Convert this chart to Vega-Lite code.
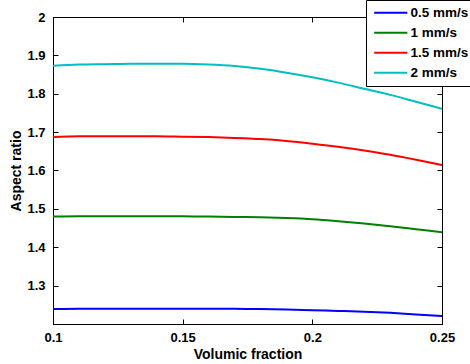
{
  "$schema": "https://vega.github.io/schema/vega-lite/v6.json",
  "width": 389,
  "height": 307,
  "autosize": "none",
  "padding": {"left": 53, "top": 17, "right": 28, "bottom": 40},
  "background": "white",
  "config": {
    "view": {"stroke": "black", "strokeWidth": 1},
    "font": "Liberation Sans",
    "axis": {"grid": false, "domainColor": "black", "tickColor": "black", "labelColor": "black", "titleColor": "black", "labelFont": "Liberation Sans", "labelFontWeight": "bold", "labelFontSize": 13, "titleFont": "Liberation Sans", "titleFontWeight": "bold", "titleFontSize": 14, "tickSize": -5, "labelFlush": false}
  },
  "data": {"values": [
    {"x": 0.10, "s": "0.5 mm/s", "y": 1.239}, {"x": 0.11, "s": "0.5 mm/s", "y": 1.240}, {"x": 0.12, "s": "0.5 mm/s", "y": 1.240}, {"x": 0.13, "s": "0.5 mm/s", "y": 1.240}, {"x": 0.14, "s": "0.5 mm/s", "y": 1.240}, {"x": 0.15, "s": "0.5 mm/s", "y": 1.240}, {"x": 0.16, "s": "0.5 mm/s", "y": 1.240}, {"x": 0.17, "s": "0.5 mm/s", "y": 1.240}, {"x": 0.18, "s": "0.5 mm/s", "y": 1.239}, {"x": 0.19, "s": "0.5 mm/s", "y": 1.238}, {"x": 0.20, "s": "0.5 mm/s", "y": 1.236}, {"x": 0.21, "s": "0.5 mm/s", "y": 1.234}, {"x": 0.22, "s": "0.5 mm/s", "y": 1.232}, {"x": 0.23, "s": "0.5 mm/s", "y": 1.229}, {"x": 0.24, "s": "0.5 mm/s", "y": 1.225}, {"x": 0.25, "s": "0.5 mm/s", "y": 1.221},
    {"x": 0.10, "s": "1 mm/s", "y": 1.480}, {"x": 0.11, "s": "1 mm/s", "y": 1.481}, {"x": 0.12, "s": "1 mm/s", "y": 1.481}, {"x": 0.13, "s": "1 mm/s", "y": 1.481}, {"x": 0.14, "s": "1 mm/s", "y": 1.481}, {"x": 0.15, "s": "1 mm/s", "y": 1.481}, {"x": 0.16, "s": "1 mm/s", "y": 1.480}, {"x": 0.17, "s": "1 mm/s", "y": 1.479}, {"x": 0.18, "s": "1 mm/s", "y": 1.478}, {"x": 0.19, "s": "1 mm/s", "y": 1.476}, {"x": 0.20, "s": "1 mm/s", "y": 1.473}, {"x": 0.21, "s": "1 mm/s", "y": 1.468}, {"x": 0.22, "s": "1 mm/s", "y": 1.462}, {"x": 0.23, "s": "1 mm/s", "y": 1.455}, {"x": 0.24, "s": "1 mm/s", "y": 1.447}, {"x": 0.25, "s": "1 mm/s", "y": 1.439},
    {"x": 0.10, "s": "1.5 mm/s", "y": 1.687}, {"x": 0.11, "s": "1.5 mm/s", "y": 1.689}, {"x": 0.12, "s": "1.5 mm/s", "y": 1.689}, {"x": 0.13, "s": "1.5 mm/s", "y": 1.689}, {"x": 0.14, "s": "1.5 mm/s", "y": 1.689}, {"x": 0.15, "s": "1.5 mm/s", "y": 1.688}, {"x": 0.16, "s": "1.5 mm/s", "y": 1.687}, {"x": 0.17, "s": "1.5 mm/s", "y": 1.685}, {"x": 0.18, "s": "1.5 mm/s", "y": 1.682}, {"x": 0.19, "s": "1.5 mm/s", "y": 1.677}, {"x": 0.20, "s": "1.5 mm/s", "y": 1.670}, {"x": 0.21, "s": "1.5 mm/s", "y": 1.662}, {"x": 0.22, "s": "1.5 mm/s", "y": 1.652}, {"x": 0.23, "s": "1.5 mm/s", "y": 1.641}, {"x": 0.24, "s": "1.5 mm/s", "y": 1.628}, {"x": 0.25, "s": "1.5 mm/s", "y": 1.614},
    {"x": 0.10, "s": "2 mm/s", "y": 1.873}, {"x": 0.11, "s": "2 mm/s", "y": 1.876}, {"x": 0.12, "s": "2 mm/s", "y": 1.877}, {"x": 0.13, "s": "2 mm/s", "y": 1.878}, {"x": 0.14, "s": "2 mm/s", "y": 1.878}, {"x": 0.15, "s": "2 mm/s", "y": 1.878}, {"x": 0.16, "s": "2 mm/s", "y": 1.876}, {"x": 0.17, "s": "2 mm/s", "y": 1.872}, {"x": 0.18, "s": "2 mm/s", "y": 1.865}, {"x": 0.19, "s": "2 mm/s", "y": 1.855}, {"x": 0.20, "s": "2 mm/s", "y": 1.843}, {"x": 0.21, "s": "2 mm/s", "y": 1.829}, {"x": 0.22, "s": "2 mm/s", "y": 1.813}, {"x": 0.23, "s": "2 mm/s", "y": 1.797}, {"x": 0.24, "s": "2 mm/s", "y": 1.779}, {"x": 0.25, "s": "2 mm/s", "y": 1.761}
  ]},
  "layer": [
    {
      "mark": {"type": "line", "strokeWidth": 2, "interpolate": "monotone", "clip": true},
      "encoding": {
        "x": {"field": "x", "type": "quantitative", "scale": {"domain": [0.1, 0.25], "nice": false, "zero": false}, "axis": {"values": [0.1, 0.15, 0.2, 0.25], "format": "~g", "title": "Volumic fraction", "titlePadding": 3, "labelPadding": 12}},
        "y": {"field": "y", "type": "quantitative", "scale": {"domain": [1.2, 2], "nice": false, "zero": false}, "axis": {"values": [1.3, 1.4, 1.5, 1.6, 1.7, 1.8, 1.9, 2], "format": "~g", "title": "Aspect ratio", "titlePadding": 3, "labelPadding": 13}},
        "color": {"field": "s", "type": "nominal", "scale": {"domain": ["0.5 mm/s", "1 mm/s", "1.5 mm/s", "2 mm/s"], "range": ["#0000ff", "#008000", "#ff0000", "#00bfbf"]},
          "legend": {"title": null, "orient": "none", "legendX": 313, "legendY": -17, "fillColor": "white", "strokeColor": "black", "padding": 6, "symbolType": "M-5,0H5", "symbolSize": 44, "symbolStrokeWidth": 2, "symbolOffset": 12, "labelOffset": 13, "labelFont": "Liberation Sans", "labelFontWeight": "bold", "labelFontSize": 13.5, "labelColor": "black", "rowPadding": 5}}
      }
    },
    {
      "mark": {"type": "line", "opacity": 0},
      "encoding": {
        "x": {"field": "x", "type": "quantitative", "axis": {"orient": "top", "values": [0.1, 0.15, 0.2, 0.25], "labels": false, "title": null}},
        "y": {"field": "y", "type": "quantitative", "axis": {"orient": "right", "values": [1.3, 1.4, 1.5, 1.6, 1.7, 1.8, 1.9, 2], "labels": false, "title": null}}
      }
    }
  ],
  "resolve": {"axis": {"x": "independent", "y": "independent"}}
}
